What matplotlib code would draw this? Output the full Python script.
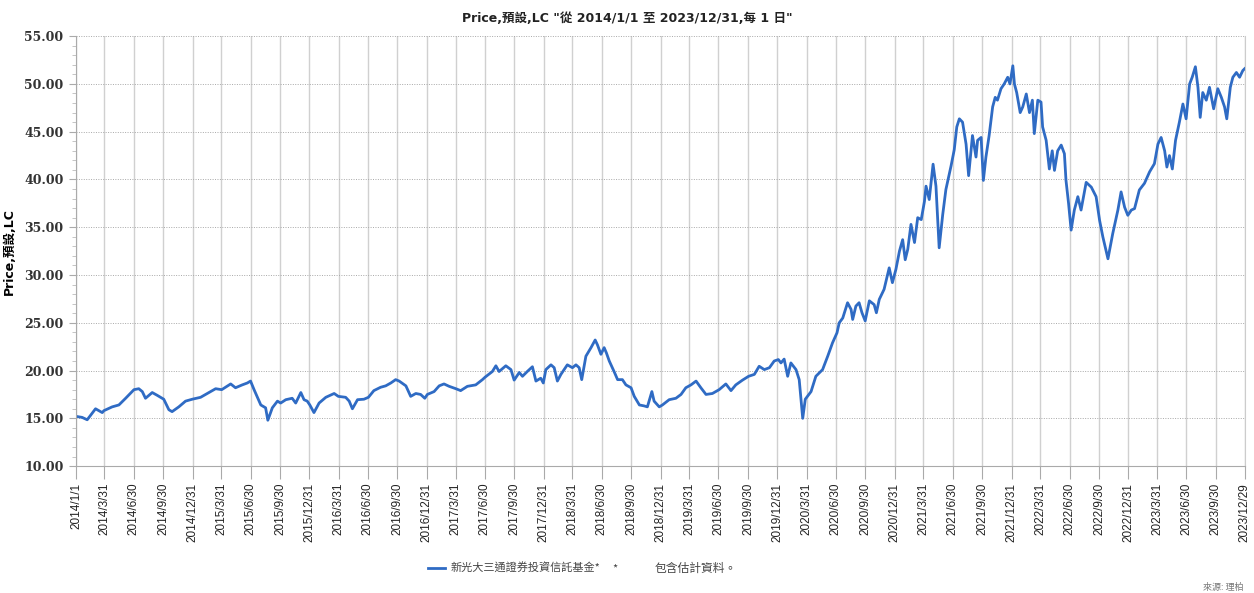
import matplotlib
matplotlib.use("Agg")
import matplotlib.pyplot as plt
from matplotlib.ticker import MultipleLocator, FormatStrFormatter
import pandas as pd

# price readings (date, value) taken off the reference chart
dates = [
    "2014-01-02", "2014-01-20", "2014-02-05", "2014-03-03", "2014-03-24", "2014-03-29",
    "2014-04-24", "2014-05-15", "2014-06-05", "2014-07-01", "2014-07-16", "2014-07-27",
    "2014-08-06", "2014-08-27", "2014-09-12", "2014-10-02", "2014-10-18", "2014-10-28",
    "2014-11-18", "2014-12-09", "2014-12-30", "2015-01-25", "2015-02-20", "2015-03-13",
    "2015-04-01", "2015-04-29", "2015-05-14", "2015-06-04", "2015-06-20", "2015-06-30",
    "2015-07-11", "2015-08-01", "2015-08-16", "2015-08-23", "2015-09-06", "2015-09-22",
    "2015-10-02", "2015-10-18", "2015-11-07", "2015-11-18", "2015-12-04", "2015-12-14",
    "2015-12-24", "2016-01-01", "2016-01-14", "2016-01-30", "2016-02-20", "2016-03-17",
    "2016-03-30", "2016-04-22", "2016-05-03", "2016-05-13", "2016-05-29", "2016-06-18",
    "2016-07-02", "2016-07-19", "2016-08-09", "2016-08-25", "2016-09-10", "2016-09-25",
    "2016-10-06", "2016-10-27", "2016-11-11", "2016-11-27", "2016-12-12", "2016-12-25",
    "2017-01-02", "2017-01-23", "2017-02-08", "2017-02-23", "2017-03-11", "2017-04-01",
    "2017-04-16", "2017-05-07", "2017-06-02", "2017-06-23", "2017-07-01", "2017-07-24",
    "2017-08-04", "2017-08-14", "2017-09-04", "2017-09-20", "2017-09-30", "2017-10-16",
    "2017-10-26", "2017-11-10", "2017-11-26", "2017-12-07", "2017-12-22", "2017-12-30",
    "2018-01-07", "2018-01-23", "2018-02-02", "2018-02-12", "2018-02-23", "2018-03-15",
    "2018-03-31", "2018-04-11", "2018-04-21", "2018-04-29", "2018-05-12", "2018-05-28",
    "2018-06-10", "2018-06-17", "2018-06-28", "2018-07-08", "2018-07-15", "2018-07-24",
    "2018-08-08", "2018-08-19", "2018-09-03", "2018-09-14", "2018-09-30", "2018-10-10",
    "2018-10-26", "2018-11-10", "2018-11-20", "2018-12-04", "2018-12-11", "2018-12-27",
    "2019-01-06", "2019-01-27", "2019-02-17", "2019-03-05", "2019-03-20", "2019-04-05",
    "2019-04-21", "2019-05-06", "2019-05-22", "2019-06-11", "2019-07-02", "2019-07-23",
    "2019-08-08", "2019-08-23", "2019-09-13", "2019-10-02", "2019-10-20", "2019-11-04",
    "2019-11-20", "2019-12-06", "2019-12-21", "2020-01-03", "2020-01-11", "2020-01-21",
    "2020-02-01", "2020-02-11", "2020-02-27", "2020-03-08", "2020-03-19", "2020-03-27",
    "2020-04-14", "2020-04-29", "2020-05-20", "2020-06-05", "2020-06-20", "2020-07-04",
    "2020-07-11", "2020-07-22", "2020-08-06", "2020-08-17", "2020-08-22", "2020-09-01",
    "2020-09-11", "2020-09-20", "2020-09-30", "2020-10-13", "2020-10-28", "2020-11-04",
    "2020-11-13", "2020-11-28", "2020-12-14", "2020-12-24", "2021-01-04", "2021-01-15",
    "2021-01-25", "2021-02-02", "2021-02-10", "2021-02-20", "2021-03-03", "2021-03-13",
    "2021-03-24", "2021-04-03", "2021-04-08", "2021-04-18", "2021-04-30", "2021-05-09",
    "2021-05-19", "2021-05-30", "2021-06-09", "2021-06-25", "2021-07-05", "2021-07-13",
    "2021-07-21", "2021-07-31", "2021-08-11", "2021-08-19", "2021-08-31", "2021-09-11",
    "2021-09-16", "2021-09-27", "2021-10-04", "2021-10-12", "2021-10-22", "2021-11-02",
    "2021-11-10", "2021-11-17", "2021-11-28", "2021-12-08", "2021-12-19", "2021-12-26",
    "2022-01-04", "2022-01-09", "2022-01-16", "2022-01-27", "2022-02-04", "2022-02-15",
    "2022-02-25", "2022-03-06", "2022-03-12", "2022-03-23", "2022-04-02", "2022-04-07",
    "2022-04-18", "2022-04-28", "2022-05-07", "2022-05-14", "2022-05-24", "2022-06-04",
    "2022-06-14", "2022-06-19", "2022-06-27", "2022-07-05", "2022-07-15", "2022-07-26",
    "2022-08-05", "2022-08-21", "2022-09-06", "2022-09-21", "2022-10-02", "2022-10-12",
    "2022-10-28", "2022-11-12", "2022-11-28", "2022-12-08", "2022-12-19", "2022-12-29",
    "2023-01-09", "2023-01-19", "2023-02-03", "2023-02-19", "2023-03-07", "2023-03-22",
    "2023-04-02", "2023-04-12", "2023-04-23", "2023-04-30", "2023-05-08", "2023-05-17",
    "2023-05-27", "2023-06-08", "2023-06-19", "2023-06-29", "2023-07-10", "2023-07-18",
    "2023-07-28", "2023-08-05", "2023-08-12", "2023-08-20", "2023-08-31", "2023-09-10",
    "2023-09-23", "2023-10-06", "2023-10-17", "2023-10-27", "2023-11-03", "2023-11-14",
    "2023-11-22", "2023-12-03", "2023-12-13", "2023-12-23", "2023-12-29",
]
prices = [
    15.2, 15.1, 14.85, 16.0, 15.6, 15.8,
    16.2, 16.4, 17.1, 18.0, 18.1, 17.8,
    17.1, 17.7, 17.4, 17.0, 15.9, 15.7,
    16.2, 16.8, 17.0, 17.2, 17.7, 18.1,
    18.0, 18.6, 18.2, 18.5, 18.7, 18.9,
    18.0, 16.4, 16.1, 14.8, 16.1, 16.8,
    16.6, 16.95, 17.1, 16.6, 17.7, 16.95,
    16.8, 16.4, 15.6, 16.6, 17.2, 17.6,
    17.3, 17.2, 16.8, 16.0, 16.95, 17.0,
    17.2, 17.9, 18.25, 18.4, 18.7, 19.05,
    18.9, 18.4, 17.3, 17.6, 17.5, 17.1,
    17.5, 17.8, 18.4, 18.6, 18.35, 18.1,
    17.9, 18.35, 18.5, 19.05, 19.3, 19.9,
    20.5, 19.9, 20.5, 20.1, 19.0, 19.8,
    19.4, 19.9, 20.4, 18.9, 19.2, 18.7,
    20.1, 20.6, 20.3, 18.9, 19.6, 20.6,
    20.3, 20.6, 20.3, 19.05, 21.5, 22.4,
    23.2, 22.7, 21.7, 22.4, 21.85, 21.0,
    19.9, 19.05, 19.05, 18.5, 18.2, 17.3,
    16.4, 16.3, 16.2, 17.8, 16.8, 16.2,
    16.4, 16.95, 17.1, 17.5, 18.2, 18.5,
    18.9, 18.2, 17.5, 17.6, 18.0, 18.6,
    17.9, 18.5, 19.0, 19.4, 19.6, 20.45,
    20.1, 20.3, 21.0, 21.15, 20.8, 21.2,
    19.4, 20.8, 20.1, 19.05, 15.0, 17.0,
    17.8, 19.4, 20.1, 21.5, 22.9, 23.95,
    25.0, 25.5, 27.1, 26.4, 25.35, 26.75,
    27.1, 26.05, 25.2, 27.3, 26.9, 26.05,
    27.45, 28.5, 30.75, 29.2, 30.6, 32.5,
    33.7, 31.6, 32.7, 35.3, 33.4, 36.0,
    35.8, 37.7, 39.3, 37.9, 41.6, 39.3,
    32.85, 36.3, 38.95, 41.4, 43.1, 45.5,
    46.35, 46.0, 43.7, 40.4, 44.6, 42.35,
    44.1, 44.4, 39.9, 42.35, 44.6, 47.6,
    48.6, 48.3, 49.5, 50.0, 50.7, 50.0,
    51.9, 50.0, 49.1, 47.0, 47.6, 48.95,
    47.0, 48.3, 44.8, 48.3, 48.1, 45.5,
    44.1, 41.1, 43.0, 40.95, 43.0, 43.6,
    42.7, 39.9, 37.5, 34.7, 36.8, 38.2,
    36.8, 39.7, 39.2, 38.2, 35.7, 34.0,
    31.7, 34.35, 36.8, 38.7, 37.1, 36.25,
    36.8, 36.95, 38.9, 39.6, 40.8, 41.65,
    43.7, 44.4, 43.0, 41.3, 42.5, 41.1,
    44.1, 46.0, 47.9, 46.35, 50.0, 50.7,
    51.8, 49.65, 46.5, 49.1, 48.3, 49.65,
    47.4, 49.5, 48.6, 47.6, 46.35, 49.65,
    50.7, 51.2, 50.7, 51.4, 51.6,
]

tick_dates = ["2014-01-01"] + [
    f"{y}-{md}" for y in range(2014, 2024) for md in ("03-31", "06-30", "09-30", "12-31")
][:-1] + ["2023-12-29"]

series_name = "新光大三通證券投資信託基金*"
note_mark = "*"
note = "包含估計資料。"
title = 'Price,預設,LC "從 2014/1/1 至 2023/12/31,每 1 日"'
source = "來源: 理柏"

cjk = ["DejaVu Sans", "Noto Sans CJK TC"]
cjk_first = ["Noto Sans CJK TC", "DejaVu Sans"]
plt.rcParams["font.family"] = cjk

x = pd.to_datetime(dates)
ticks = pd.to_datetime(tick_dates)

fig = plt.figure(figsize=(12.54, 5.93), dpi=100)
ax = fig.add_axes([0.0606, 0.214, 0.932, 0.725])

line, = ax.plot(x, prices, color="#2f6bc4", lw=2.0, label=series_name)

ax.set_xlim(pd.Timestamp("2014-01-01"), pd.Timestamp("2023-12-29"))
ax.set_ylim(10, 55)
ax.set_xticks(ticks)
ax.set_xticklabels([f"{d.year}/{d.month}/{d.day}" for d in ticks], rotation=90,
                   fontsize=8.5, color="#222222", family=["Liberation Sans"] + cjk)
ax.yaxis.set_major_locator(MultipleLocator(5))
ax.yaxis.set_minor_locator(MultipleLocator(1))
ax.yaxis.set_major_formatter(FormatStrFormatter("%.2f"))
for t in ax.get_yticklabels():
    t.set_fontfamily("DejaVu Serif")
    t.set_fontweight("bold")
    t.set_fontsize(9)
    t.set_color("#333333")

ax.grid(axis="x", color="#d0d0d0", lw=1.0, ls="-")
ax.grid(axis="y", color="#a8a8a8", lw=0.7, ls=(0, (1, 1.5)))
ax.tick_params(axis="x", length=9, color="#aaaaaa", pad=3)
ax.tick_params(axis="y", which="major", length=5, color="#aaaaaa", pad=4)
ax.tick_params(axis="y", which="minor", length=3, color="#bbbbbb")
for s in ("left", "bottom"):
    ax.spines[s].set_color("#aaaaaa")
ax.spines["top"].set_visible(False)
ax.spines["right"].set_color("#cccccc")

ax.set_ylabel("Price,預設,LC", fontsize=9, fontweight="bold", labelpad=6, family=cjk)
fig.text(0.5, 0.968, title, ha="center", va="center", fontsize=9, fontweight="bold",
         family=cjk, color="#222222")

fig.legend(handles=[line], loc="center left", bbox_to_anchor=(0.333, 0.042), frameon=False,
           handlelength=1.6, handletextpad=0.5, labelcolor="#444444",
           prop={"family": cjk_first, "size": 8})
fig.text(0.488, 0.042, note_mark, ha="left", va="center", fontsize=8, color="#444444",
         family=cjk_first)
fig.text(0.522, 0.042, note, ha="left", va="center", fontsize=8.5, color="#444444",
         family=cjk_first)
fig.text(0.992, 0.002, source, ha="right", va="bottom", fontsize=6.5, color="#777777",
         family=cjk_first)

fig.savefig("out.png", dpi=100)
